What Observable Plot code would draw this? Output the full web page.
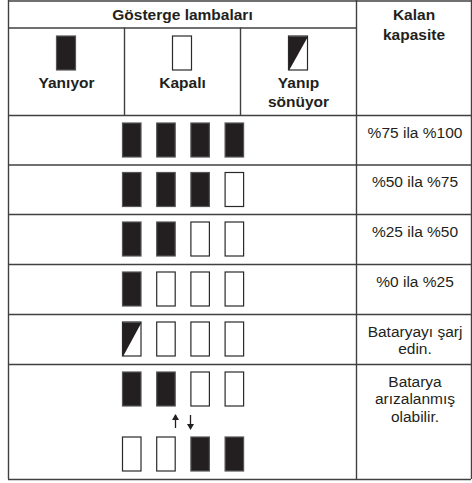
<!DOCTYPE html>
<html><head><meta charset="utf-8">
<script src="https://cdn.jsdelivr.net/npm/d3@7"></script>
<script src="https://cdn.jsdelivr.net/npm/@observablehq/plot@0.6"></script>
<style>body{margin:0;background:#fff}</style>
</head><body><div id="chart"></div>
<script>
// ---- data ----
const headerTitle = "Gösterge lambaları";
const capacityTitle = ["Kalan", "kapasite"];
const legendStates = ["on", "off", "blink"];
const legendLabels = [["Yanıyor"], ["Kapalı"], ["Yanıp", "sönüyor"]];
const capacities = [
  ["%75 ila %100"],
  ["%50 ila %75"],
  ["%25 ila %50"],
  ["%0 ila %25"],
  ["Bataryayı şarj", "edin."],
  ["Batarya", "arızalanmış", "olabilir."]
];
const rowLamps = [
  [["on", "on", "on", "on"]],
  [["on", "on", "on", "off"]],
  [["on", "on", "off", "off"]],
  [["on", "off", "off", "off"]],
  [["blink", "off", "off", "off"]],
  [["on", "on", "off", "off"], ["off", "off", "on", "on"]]
];
const switchArrows = ["up", "down"];

// ---- layout ----
const W = 472, H = 483;
const colX = [8, 124, 240, 356, 471];
const rowY = [115, 164.5, 214, 264, 314, 364, 479];
const ink = "#231f20";
const lineC = "#404040";
const font = "Liberation Sans, Arial, Helvetica, sans-serif";
const lampW = 18.5, lampH = 34;

const lamps = [];
rowLamps.forEach((sets, r) => sets.forEach((set, s) => set.forEach((state, i) => {
  const x1 = 122.5 + i * 34.2, y1 = rowY[r] + 8 + s * 65;
  lamps.push({state, x1, x2: x1 + lampW, y1, y2: y1 + lampH});
})));
legendStates.forEach((state, i) => {
  const cx = (colX[i] + colX[i + 1]) / 2;
  lamps.push({state, x1: cx - 9.5, x2: cx + 9.5, y1: 36, y2: 70});
});
const blinkTri = lamps.filter(d => d.state === "blink").flatMap((d, k) => [
  {k, x: d.x1, y: d.y1}, {k, x: d.x2, y: d.y1}, {k, x: d.x1, y: d.y2}
]);

const hLines = [
  {y: 0.5, x1: colX[0], x2: colX[4]},
  {y: 27.5, x1: colX[0], x2: colX[3]},
  ...rowY.map(y => ({y, x1: colX[0], x2: colX[4]}))
];
const vLines = [
  {x: colX[0], y1: 0, y2: rowY[6]},
  {x: colX[4], y1: 0, y2: rowY[6]},
  {x: colX[3], y1: 0, y2: rowY[6]},
  {x: colX[1], y1: 27.5, y2: rowY[0]},
  {x: colX[2], y1: 27.5, y2: rowY[0]}
];

const boldTexts = [
  {t: headerTitle, x: (colX[0] + colX[3]) / 2, y: 14.5},
  ...capacityTitle.map((t, k) => ({t, x: (colX[3] + colX[4]) / 2, y: 15 + k * 20})),
  ...legendLabels.flatMap((ls, i) => ls.map((t, k) => ({t, x: (colX[i] + colX[i + 1]) / 2, y: 83 + k * 18.5})))
];
const capTexts = capacities.flatMap((ls, r) => ls.map((t, k) => ({
  t, x: (colX[3] + colX[4]) / 2 + 1, y: rowY[r] + 17.5 + k * 17.5
})));
const arrows = switchArrows.map((dir, i) => ({
  dir, x: 175 + i * 15, y1: 415, y2: 428,
  hy: dir === "up" ? 417.5 : 425.5, rot: dir === "up" ? 0 : 180
}));

const chart = Plot.plot({
  width: W, height: H, margin: 0,
  x: {type: "linear", domain: [0, W], range: [0, W], axis: null},
  y: {type: "linear", domain: [0, H], range: [0, H], axis: null},
  style: {fontFamily: font, background: "#fff"},
  marks: [
    Plot.rect(lamps, {x1: "x1", x2: "x2", y1: "y1", y2: "y2",
      fill: d => d.state === "on" ? ink : "#fff",
      stroke: d => d.state === "on" ? "#555" : "#2a2a2a", strokeWidth: 1.2}),
    Plot.line(blinkTri, {x: "x", y: "y", z: "k", curve: "linear-closed", fill: ink, stroke: "none"}),
    Plot.ruleY(hLines, {y: "y", x1: "x1", x2: "x2", stroke: lineC, strokeWidth: 1.4}),
    Plot.ruleX(vLines, {x: "x", y1: "y1", y2: "y2", stroke: lineC, strokeWidth: 1.4}),
    Plot.ruleX(arrows, {x: "x", y1: "y1", y2: "y2", stroke: ink, strokeWidth: 1.3}),
    Plot.dot(arrows, {x: "x", y: "hy", symbol: "triangle", r: 2.6, rotate: "rot", fill: ink, stroke: "none"}),
    Plot.text(boldTexts, {x: "x", y: "y", text: "t", fontSize: 15.5, fontWeight: "bold", fill: ink}),
    Plot.text(capTexts, {x: "x", y: "y", text: "t", fontSize: 15.5, fill: ink})
  ]
});
document.getElementById("chart").append(chart);
</script>
</body></html>
